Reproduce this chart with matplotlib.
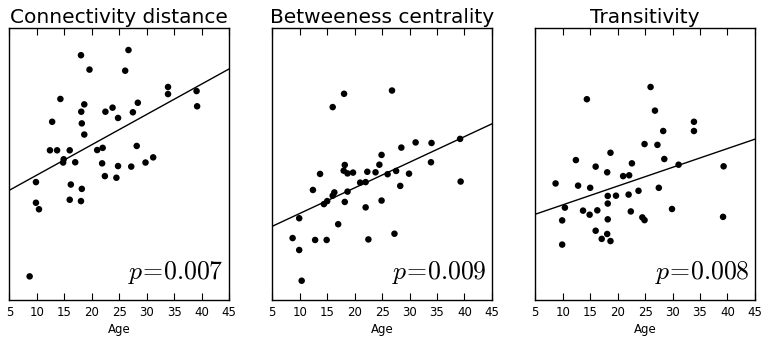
import numpy as np
import matplotlib
matplotlib.use("Agg")
import matplotlib.pyplot as plt

plt.rcParams['mathtext.fontset'] = 'cm'

titles = ["Connectivity distance", "Betweeness centrality", "Transitivity"]
p_labels = [r"$p\!=\!0.007$", r"$p\!=\!0.009$", r"$p\!=\!0.008$"]

# values (y is arbitrary units, 0..100)
age_conn = [18.05, 26.7, 19.6, 26.1, 14.3, 33.9, 33.9, 39.1, 39.2, 18.65, 18.1,
            22.5, 23.8, 28.4, 27.5, 24.8, 12.8, 18.2, 18.65, 12.4, 13.7, 16.0,
            14.9, 14.8, 17.0, 21.0, 22.0, 28.2, 21.9, 24.8, 27.2, 29.8, 31.2,
            22.4, 24.5, 9.85, 16.2, 18.2, 9.85, 10.4, 16.0, 18.05, 8.7]
conn = [90.1, 92.0, 84.8, 84.4, 74.0, 78.4, 75.8, 76.9, 71.3, 72.0, 69.3,
        69.3, 70.8, 72.6, 69.1, 67.0, 65.6, 65.0, 60.9, 55.1, 55.1, 55.1,
        51.8, 50.6, 50.7, 55.2, 56.0, 56.7, 50.3, 49.3, 49.1, 50.6, 52.5,
        45.6, 45.0, 43.4, 42.5, 40.9, 35.8, 33.4, 36.9, 36.4, 8.7]

age_betw = [18.07, 26.8, 16.0, 39.2, 31.1, 34.0, 28.5, 24.9, 33.9, 18.2, 24.5,
            18.0, 18.7, 19.7, 13.7, 22.3, 23.8, 27.55, 26.0, 29.9, 21.0, 22.0,
            39.3, 28.3, 12.4, 16.3, 16.0, 18.7, 15.0, 14.4, 18.2, 24.9, 22.0,
            9.9, 17.0, 27.25, 8.7, 12.8, 14.9, 22.5, 9.9, 10.35]
betw = [75.9, 77.1, 71.0, 59.3, 58.0, 57.8, 56.1, 53.4, 50.7, 49.7, 49.8,
        47.6, 46.6, 46.9, 46.4, 47.2, 47.0, 47.5, 46.3, 46.5, 43.2, 43.4,
        43.6, 42.0, 40.5, 39.6, 38.4, 39.9, 36.4, 35.3, 36.1, 36.6, 34.1,
        30.1, 27.9, 24.4, 22.8, 22.1, 22.1, 22.3, 18.4, 7.1]

age_trans = [26.0, 14.4, 26.8, 33.9, 33.9, 28.3, 24.9, 27.25, 18.7, 28.5, 12.4,
             22.6, 31.1, 39.3, 16.0, 18.1, 21.0, 22.1, 8.7, 12.8, 15.0, 27.5,
             23.8, 18.2, 19.7, 22.0, 18.2, 10.4, 29.9, 13.7, 16.3, 22.4, 14.9,
             24.5, 24.9, 39.2, 9.9, 18.2, 16.0, 18.1, 17.1, 18.7, 9.9]
trans = [78.4, 73.9, 69.7, 65.6, 62.2, 62.2, 57.4, 57.1, 54.2, 51.9, 51.5,
         50.3, 49.8, 49.2, 49.1, 47.0, 45.6, 45.9, 42.9, 42.1, 41.3, 41.3,
         40.2, 38.3, 38.4, 38.8, 35.5, 34.0, 33.5, 32.9, 33.0, 32.6, 31.4,
         30.4, 29.4, 30.6, 29.3, 29.7, 25.5, 24.3, 22.5, 21.7, 20.4]

ages = [age_conn, age_betw, age_trans]
values = [conn, betw, trans]

fig = plt.figure(figsize=(7.64, 3.39), dpi=100)
lefts = [0.0122, 0.3564, 0.7006]

for i in range(3):
    ax = fig.add_axes([lefts[i], 0.115, 0.2875, 0.8015])
    x = np.array(ages[i])
    y = np.array(values[i])
    ax.scatter(x, y, s=22, color='black', edgecolors='none', zorder=3)
    # least squares line
    k, b = np.polyfit(x, y, 1)
    xx = np.array([5, 45])
    ax.plot(xx, k * xx + b, color='black', lw=1)
    ax.set_xlim(5, 45)
    ax.set_ylim(0, 100)
    ax.set_xticks(range(5, 46, 5))
    ax.set_yticks([])
    ax.tick_params(axis='x', direction='in', top=True, length=5, width=0.8,
                   labelsize=8.5, pad=4)
    ax.set_xlabel("Age", fontsize=8.5, labelpad=3)
    ax.set_title(titles[i], fontsize=14.5, pad=4)
    ax.text(0.975, 0.05, p_labels[i], transform=ax.transAxes,
            ha='right', va='bottom', fontsize=18.5)
    for s in ax.spines.values():
        s.set_linewidth(1)

fig.savefig("out.png", dpi=100)
